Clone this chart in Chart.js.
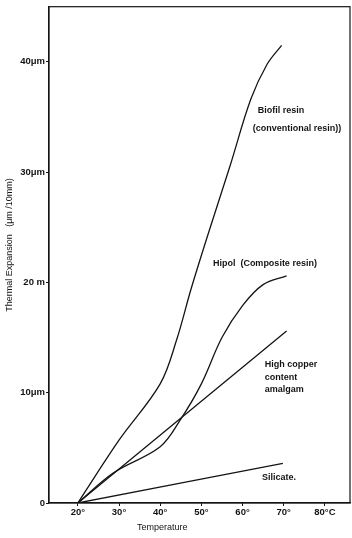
<!DOCTYPE html>
<html>
<head>
<meta charset="utf-8">
<script src="https://cdn.jsdelivr.net/npm/chart.js@4/dist/chart.umd.min.js"></script>
<style>
  html, body { margin: 0; padding: 0; background: #fff; }
  #wrap { width: 352px; height: 538px; position: relative; }
</style>
</head>
<body>
<div id="wrap"><canvas id="expChart"></canvas></div>
<script>
// temperature (deg C) vs thermal expansion (um / 10mm)
const biofilTemp = [20, 30, 40, 44, 47.5, 52, 57, 62, 66, 69.5];
const biofilExp  = [0, 5.7, 10.8, 14.8, 19.4, 24.8, 30.6, 36.6, 39.8, 41.5];

const hipolTemp = [20, 28.5, 40, 45, 50, 55, 60, 65, 70.7];
const hipolExp  = [0, 2.7, 5.1, 7.6, 10.8, 15.0, 17.9, 19.8, 20.6];

const amalgamTemp = [20, 70.7];
const amalgamExp  = [0, 15.6];

const silicateTemp = [20, 69.8];
const silicateExp  = [0, 3.6];

const xTicks = [20, 30, 40, 50, 60, 70, 80];
const xTickLabels = ['20°', '30°', '40°', '50°', '60°', '70°', '80°C'];
const yTicks = [0, 10, 20, 30, 40];
const yTickLabels = ['0', '10μm', '20 m', '30μm', '40μm'];

const toPoints = (xs, ys) => xs.map((x, i) => ({ x: x, y: ys[i] }));

const ink = '#141414';
const fontFam = '"Liberation Sans", Arial, sans-serif';

function lineSet(label, xs, ys) {
    return {
        label: label,
        data: toPoints(xs, ys),
        showLine: true,
        borderColor: ink,
        borderWidth: 1.3,
        pointRadius: 0,
        tension: 0.35,
        fill: false
    };
}

// in-plot labels and axis titles
const textPlugin = {
    id: 'textPlugin',
    afterDraw(chart) {
        const ctx = chart.ctx;
        const xs = chart.scales.x, ys = chart.scales.y;
        const area = chart.chartArea;
        ctx.save();
        ctx.fillStyle = ink;
        ctx.textBaseline = 'middle';
        ctx.textAlign = 'left';
        ctx.font = 'bold 9px ' + fontFam;
        const put = (t, tx, vy) => ctx.fillText(t, xs.getPixelForValue(tx), ys.getPixelForValue(vy));
        put('Biofil resin', 63.7, 35.6);
        put('(conventional resin))', 62.5, 34.0);
        put('Hipol  (Composite resin)', 52.8, 21.7);
        put('High copper', 65.4, 12.6);
        put('content', 65.4, 11.4);
        put('amalgam', 65.4, 10.3);
        put('Silicate.', 64.7, 2.35);

        // x title
        ctx.font = '9px ' + fontFam;
        ctx.fillText('Temperature', 137, 528);

        // y title
        ctx.translate(10, 245);
        ctx.rotate(-Math.PI / 2);
        ctx.textAlign = 'center';
        ctx.fillText('Thermal Expansion   (μm /10mm)', 0, 0);
        ctx.restore();

        // frame
        ctx.save();
        ctx.strokeStyle = ink;
        ctx.lineWidth = 1.2;
        ctx.strokeRect(area.left, area.top, area.right - area.left, area.bottom - area.top);
        ctx.restore();
    }
};

const ctx = document.getElementById('expChart').getContext('2d');
new Chart(ctx, {
    type: 'scatter',
    data: {
        datasets: [
            lineSet('Biofil resin', biofilTemp, biofilExp),
            lineSet('Hipol', hipolTemp, hipolExp),
            lineSet('High copper content amalgam', amalgamTemp, amalgamExp),
            lineSet('Silicate', silicateTemp, silicateExp)
        ]
    },
    options: {
        responsive: true,
        maintainAspectRatio: false,
        animation: false,
        layout: { padding: { top: 5, right: 2, left: 0, bottom: 0 } },
        plugins: { legend: { display: false }, tooltip: { enabled: false } },
        scales: {
            x: {
                type: 'linear',
                min: 13,
                max: 86.1,
                afterBuildTicks: s => { s.ticks = xTicks.map(v => ({ value: v })); },
                afterFit: s => { s.height = 35; },
                grid: { drawOnChartArea: false, drawTicks: true, tickLength: 3, color: ink },
                border: { color: ink, width: 1.2 },
                ticks: {
                    color: ink,
                    padding: 1,
                    font: { family: fontFam, size: 9.5, weight: 'bold' },
                    callback: v => xTickLabels[xTicks.indexOf(v)]
                }
            },
            y: {
                type: 'linear',
                min: 0,
                max: 45,
                afterBuildTicks: s => { s.ticks = yTicks.map(v => ({ value: v })); },
                afterFit: s => { s.width = 49; },
                grid: { drawOnChartArea: false, drawTicks: true, tickLength: 3, color: ink },
                border: { color: ink, width: 1.2 },
                ticks: {
                    color: ink,
                    padding: 1,
                    font: { family: fontFam, size: 9.5, weight: 'bold' },
                    callback: v => yTickLabels[yTicks.indexOf(v)]
                }
            }
        }
    },
    plugins: [textPlugin]
});
</script>
</body>
</html>
